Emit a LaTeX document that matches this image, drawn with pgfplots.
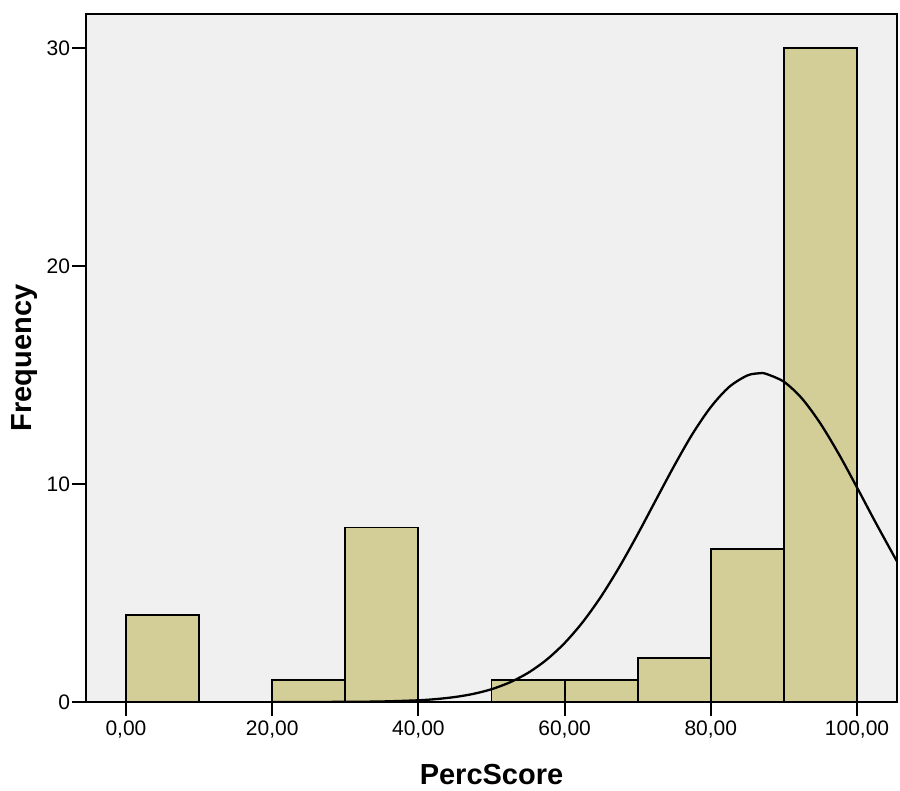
\documentclass[border=0pt]{standalone}
\usepackage{fontspec}
\setmainfont{Liberation Sans}
\usepackage{pgfplots}
\pgfplotsset{compat=1.18}
\definecolor{bg}{HTML}{F0F0F0}
\definecolor{barfill}{HTML}{D3CE97}
\begin{document}
\begin{tikzpicture}
\begin{axis}[
  name=ax,
  scale only axis,
  width=405.5pt, height=344pt,
  xmin=-5.47, xmax=105.47,
  ymin=0, ymax=31.56,
  axis background/.style={fill=bg},
  axis line style={line width=0.8pt, black},
  tick align=outside,
  tick pos=left,
  major tick length=7pt,
  tick style={line width=1pt, black},
  xtick={0,20,40,60,80,100},
  xticklabels={{0,00},{20,00},{40,00},{60,00},{80,00},{100,00}},
  ytick={0,10,20,30},
  /pgf/number format/assume math mode=true,
  tick label style={font=\fontsize{10.5}{12}\selectfont},
  yticklabel style={inner sep=0.8pt},
  xticklabel style={inner sep=2pt},
  xlabel={PercScore},
  ylabel={Frequency},
  label style={font=\fontsize{14.5}{16}\selectfont\bfseries},
  xlabel style={at={(axis description cs:0.5,-0.1061)}, anchor=center},
  ylabel style={at={(axis description cs:-0.0752,0.5)}, anchor=center},
  clip=true,
]
\addplot[ybar interval, fill=barfill, draw=black, line width=0.9pt]
  coordinates {(0,4) (10,0) (20,1) (30,8) (40,0) (50,1) (60,1) (70,2) (80,7) (90,30) (100,0)};
\addplot[smooth, black, line width=1.15pt] coordinates {
(20,0) (25,0.002) (30,0.007) (35,0.024) (40,0.078) (42.5,0.136) (45,0.228)
(47.5,0.371) (50,0.586) (52.5,0.899) (55,1.336) (57.5,1.930) (60,2.703)
(62.5,3.674) (65,4.845) (67.5,6.200) (70,7.697) (72.5,9.274) (75,10.84)
(77.5,12.30) (80,13.53) (82.5,14.45) (85,14.98) (86.7,15.08) (87.5,15.06)
(90,14.69) (92.5,13.91) (95,12.77) (97.5,11.38) (100,9.84) (102.5,8.26)
(105,6.73) (105.5,6.43)};
\end{axis}
\pgfresetboundingbox
\path[use as bounding box] ([xshift=-43pt,yshift=-44.5pt]ax.south west) rectangle ([xshift=1.5pt,yshift=7pt]ax.north east);
\end{tikzpicture}
\end{document}
